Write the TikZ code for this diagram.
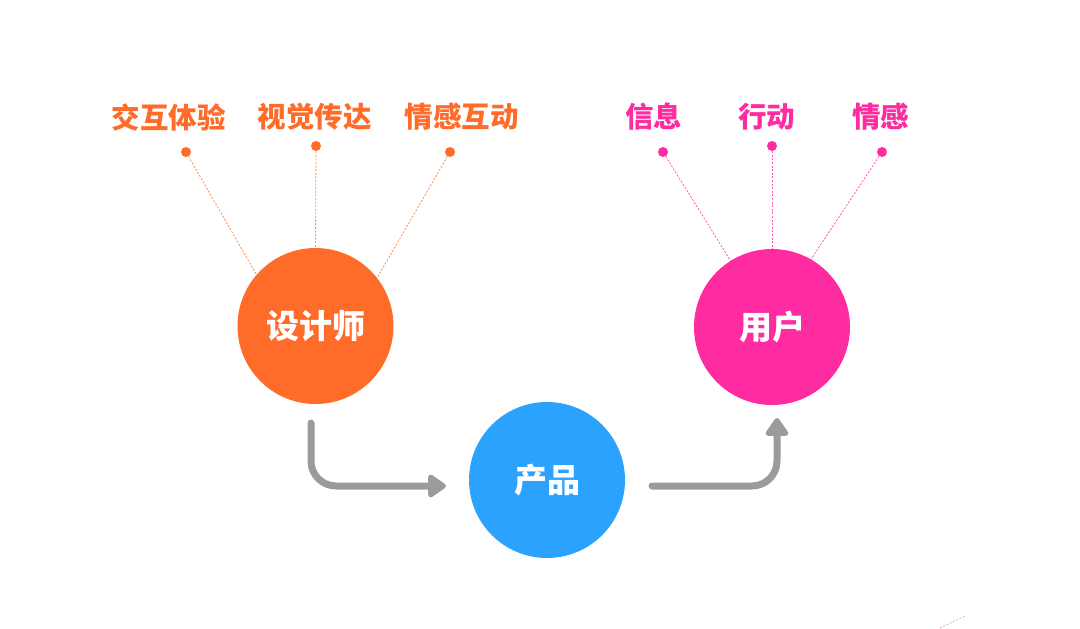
\documentclass[tikz,border=0pt]{standalone}
\usepackage{fontspec}
\usepackage{tikz}
\usetikzlibrary{arrows.meta}
\newfontfamily\cjk{Noto Sans CJK SC}
\definecolor{dsorange}{RGB}{255,108,42}
\definecolor{uspink}{RGB}{255,43,160}
\definecolor{prblue}{RGB}{44,162,255}
\definecolor{flowgray}{RGB}{155,155,155}

\begin{document}
\begin{tikzpicture}[x=1pt,y=-1pt,
		bigcircle/.style={circle,fill=#1,minimum size=156pt,inner sep=0pt,text=white,font=\cjk\bfseries\fontsize{33}{33}\selectfont},
		dot/.style={circle,fill=#1,minimum size=10pt,inner sep=0pt},
		tag/.style={text=#1,inner sep=0pt,font=\cjk\bfseries\fontsize{28.5}{28.5}\selectfont},
		link/.style={draw=#1,line width=0.8pt,dash pattern=on 2pt off 1.6pt},
		flow/.style={draw=flowgray,line width=7pt,line cap=round,rounded corners=25pt,-{Triangle[length=20pt,width=26pt,round]}}]
			\useasboundingbox (0,0) rectangle (1080,629);
			% circles
			\node[bigcircle=dsorange](des) at (315.5,326){设计师};
			\node[bigcircle=uspink](user) at (772,327){用户};
			\node[bigcircle=prblue](prod) at (547,480){产品};
			% designer tags
			\node[tag=dsorange](t1) at (168.5,117){交互体验};
			\node[tag=dsorange](t2) at (314.5,117){视觉传达};
			\node[tag=dsorange](t3) at (461.5,117){情感互动};
			\node[dot=dsorange](d1) at (186,152){};
			\node[dot=dsorange](d2) at (316,146){};
			\node[dot=dsorange](d3) at (450,152){};
			\draw[link=dsorange!80](d1)--(des.139);
			\draw[link=dsorange!80](d2)--(des.north);
			\draw[link=dsorange!80](d3)--(des.38);
			% user tags
			\node[tag=uspink](t4) at (653.5,117){信息};
			\node[tag=uspink](t5) at (766.5,117){行动};
			\node[tag=uspink](t6) at (880.5,117){情感};
			\node[dot=uspink](u1) at (663,152){};
			\node[dot=uspink](u2) at (772,146){};
			\node[dot=uspink](u3) at (882,152){};
			\draw[link=uspink!80](u1)--(user.122);
			\draw[link=uspink!80](u2)--(user.north);
			\draw[link=uspink!80](u3)--(user.60);
			% flow arrows
			\coordinate(a1) at (311,423);
			\coordinate(a2) at (446,486);
			\coordinate(b1) at (652,486);
			\coordinate(b2) at (777,418);
			\draw[flow](a1)|-(a2);
			\draw[flow](b1)-|(b2);
			% stray piece
			\draw[link=dsorange!60](940,628)--(965,616);
		\end{tikzpicture}
\end{document}
